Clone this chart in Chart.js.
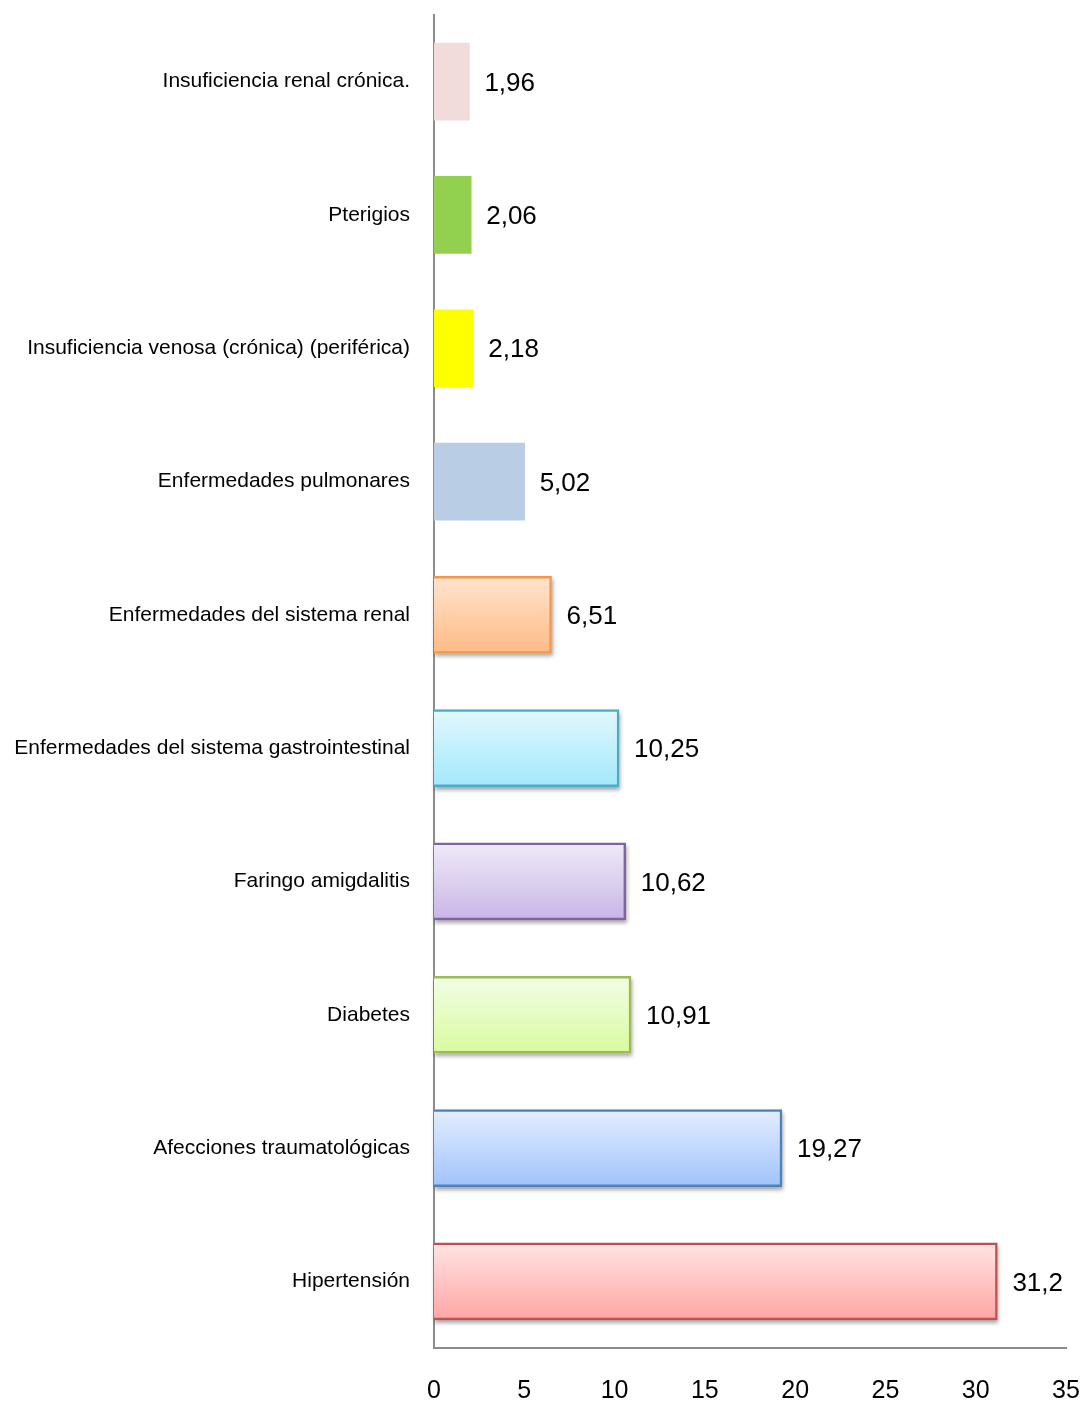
<!DOCTYPE html>
<html>
<head>
<meta charset="utf-8">
<script src="https://cdn.jsdelivr.net/npm/chart.js@4"></script>
<style>
  html, body { margin: 0; padding: 0; background: #fff; }
  #wrap { width: 1084px; height: 1401px; }
</style>
</head>
<body>
<div id="wrap"><canvas id="chart"></canvas></div>
<script>
const categories = [
  'Insuficiencia renal crónica.',
  'Pterigios',
  'Insuficiencia venosa (crónica) (periférica)',
  'Enfermedades pulmonares',
  'Enfermedades del sistema renal',
  'Enfermedades del sistema gastrointestinal',
  'Faringo amigdalitis',
  'Diabetes',
  'Afecciones traumatológicas',
  'Hipertensión'
];
const values = [1.96, 2.06, 2.18, 5.02, 6.51, 10.25, 10.62, 10.91, 19.27, 31.2];
const xTicks = [0, 5, 10, 15, 20, 25, 30, 35];

// fill top / fill bottom / border (null border = flat bar)
const fillTop = ['#f2dcdb', '#92d050', '#ffff00', '#b9cde5', '#ffe4cf', '#e2f8ff', '#efeaf8', '#f3fde6', '#e3edff', '#ffe4e4'];
const fillBottom = ['#f2dcdb', '#92d050', '#ffff00', '#b9cde5', '#ffbb85', '#a2e8fb', '#c9b5e6', '#d8fb9f', '#a1c3fb', '#ffa5a5'];
const borders = [null, null, null, null, '#f79646', '#4bacc6', '#8064a2', '#9bbb59', '#4f81bd', '#c0504d'];

const BAR_H = 77;
const FONT = '"Liberation Sans", Arial, sans-serif';

function barFill(ctx) {
  const i = ctx.dataIndex;
  const chart = ctx.chart;
  const y = chart.scales.y;
  if (!y || fillTop[i] === fillBottom[i]) return fillTop[i];
  const c = y.getPixelForTick(i);
  const g = chart.ctx.createLinearGradient(0, c - BAR_H / 2, 0, c + BAR_H / 2);
  g.addColorStop(0, fillTop[i]);
  g.addColorStop(1, fillBottom[i]);
  return g;
}

// soft drop shadow under the outlined bars
const barShadow = {
  id: 'barShadow',
  beforeDatasetsDraw(chart) {
    const ctx = chart.ctx;
    const meta = chart.getDatasetMeta(0);
    ctx.save();
    meta.data.forEach((bar, i) => {
      if (!borders[i]) return;
      ctx.shadowColor = 'rgba(0,0,0,0.35)';
      ctx.shadowBlur = 4;
      ctx.shadowOffsetX = 1;
      ctx.shadowOffsetY = 3;
      ctx.fillStyle = '#fff';
      ctx.fillRect(bar.base, bar.y - bar.height / 2, bar.x - bar.base, bar.height);
    });
    ctx.restore();
  }
};

// value labels to the right of each bar
const valueLabels = {
  id: 'valueLabels',
  afterDatasetsDraw(chart) {
    const ctx = chart.ctx;
    const meta = chart.getDatasetMeta(0);
    ctx.save();
    ctx.font = '26px ' + FONT;
    ctx.fillStyle = '#000';
    ctx.textAlign = 'left';
    ctx.textBaseline = 'middle';
    meta.data.forEach((bar, i) => {
      ctx.fillText(String(values[i]).replace('.', ','), bar.x + 15, bar.y + 2);
    });
    ctx.restore();
  }
};

new Chart(document.getElementById('chart'), {
  type: 'bar',
  data: {
    labels: categories,
    datasets: [{
      data: values,
      backgroundColor: barFill,
      borderColor: borders.map(b => b || 'rgba(0,0,0,0)'),
      borderWidth: borders.map(b => b ? 2.5 : 0),
      barThickness: BAR_H
    }]
  },
  options: {
    indexAxis: 'y',
    responsive: true,
    maintainAspectRatio: false,
    animation: false,
    layout: { padding: { top: 15, right: 18, left: 0, bottom: 0 } },
    plugins: {
      legend: { display: false },
      tooltip: { enabled: false }
    },
    scales: {
      x: {
        min: 0,
        max: 35,
        afterBuildTicks: s => { s.ticks = xTicks.map(v => ({ value: v })); },
        afterFit: s => { s.height = 53; s.paddingLeft = 0; s.paddingRight = 0; },
        grid: { display: false, drawTicks: false },
        border: { display: true, color: '#8c8c8c', width: 2 },
        ticks: {
          padding: 28,
          color: '#000',
          font: { family: FONT, size: 25 },
          maxRotation: 0
        }
      },
      y: {
        afterFit: s => { s.width = 434; s.paddingTop = 0; s.paddingBottom = 0; },
        grid: { display: false, drawTicks: false },
        border: { display: true, color: '#8c8c8c', width: 2 },
        ticks: {
          padding: 24,
          color: '#000',
          font: { family: FONT, size: 21 }
        }
      }
    }
  },
  plugins: [barShadow, valueLabels]
});
</script>
</body>
</html>
